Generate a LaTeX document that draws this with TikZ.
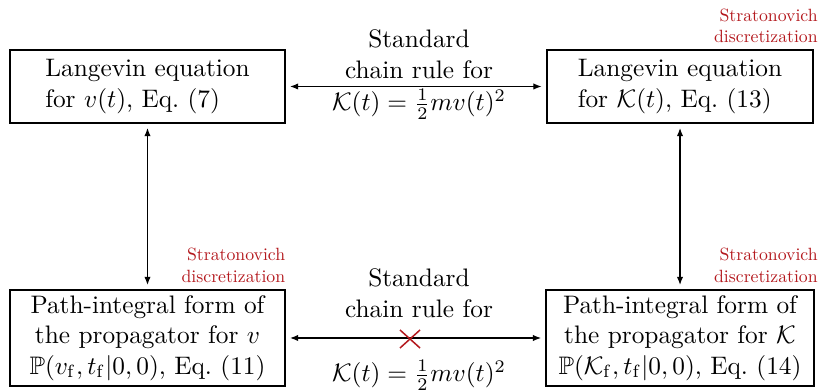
\documentclass[tikz,border=0pt]{standalone}
\usepackage{amsmath,amssymb}
\usetikzlibrary{arrows.meta,calc}
\definecolor{redlab}{RGB}{180,25,30}
\begin{document}
\begin{tikzpicture}[x=0.395pt,y=-0.395pt,
  box/.style={draw,line width=0.8pt,inner sep=2pt,font=\normalsize},
  redtxt/.style={text=redlab,font=\fontsize{10}{12}\selectfont,align=right,inner sep=0pt,scale=0.7,transform shape},
  midtxt/.style={align=center,inner sep=0pt,font=\normalsize},
  link/.style={{Latex[length=3.2pt,width=2.5pt]}-{Latex[length=3.2pt,width=2.5pt]},line width=0.45pt,shorten <=1.6pt,shorten >=1.6pt}]
\useasboundingbox (0,0) rectangle (822,392);
\node[box,minimum width=108.6pt,minimum height=28.8pt,align=left] (tl) at (147.5,86.5)
  {Langevin equation\\for $v(t)$, Eq.~(7)};
\node[box,minimum width=105.4pt,minimum height=28.8pt,align=left] (tr) at (680,86.5)
  {Langevin equation\\for $\mathcal{K}(t)$, Eq.~(13)};
\node[box,minimum width=108.6pt,minimum height=37.9pt,align=center] (bl) at (147.5,338)
  {Path-integral form of\\the propagator for $v$\\$\mathbb{P}(v_{\mathrm{f}},t_{\mathrm{f}}|0,0)$, Eq.~(11)};
\node[box,minimum width=105.8pt,minimum height=37.9pt,align=center] (br) at (680,338)
  {Path-integral form of\\the propagator for $\mathcal{K}$\\$\mathbb{P}(\mathcal{K}_{\mathrm{f}},t_{\mathrm{f}}|0,0)$, Eq.~(14)};
\draw[link] (tl) -- (tr);
\draw[link] (bl) -- (br);
\draw[link] (tl) -- (bl);
\draw[link] (tr) -- (br);
\node[midtxt,anchor=south] (ta) at (419,79) {Standard\\chain rule for};
\node[midtxt,anchor=north] (tb) at (419,89) {$\mathcal{K}(t)=\frac{1}{2}mv(t)^2$};
\node[midtxt,anchor=south] (ba) at (419,318) {Standard\\chain rule for};
\node[midtxt,anchor=north] (bb) at (419,360) {$\mathcal{K}(t)=\frac{1}{2}mv(t)^2$};
\coordinate (x) at (410,339);
\draw[redlab,line width=0.6pt] ($(x)+(-10,-9)$) -- ($(x)+(10,9)$) ($(x)+(-10,9)$) -- ($(x)+(10,-9)$);
\node[redtxt,anchor=north east] (r1) at (818,8.5) {Stratonovich\\discretization};
\node[redtxt,anchor=north east] (r2) at (285.5,248) {Stratonovich\\discretization};
\node[redtxt,anchor=north east] (r3) at (818,248) {Stratonovich\\discretization};
\end{tikzpicture}
\end{document}
